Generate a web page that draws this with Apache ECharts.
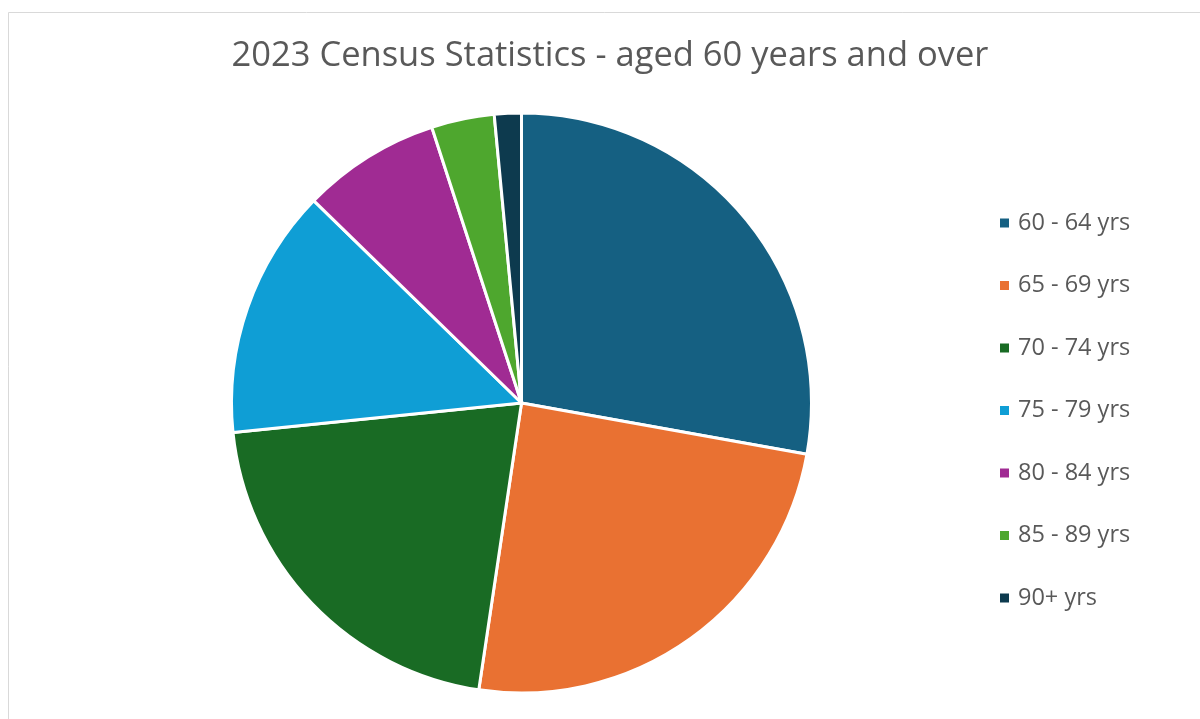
<!DOCTYPE html>
<html>
<head>
<meta charset="utf-8">
<title>2023 Census Statistics - aged 60 years and over</title>
<script src="https://cdn.jsdelivr.net/npm/echarts@6/dist/echarts.min.js"></script>
<style>
  html, body { margin: 0; padding: 0; background: #ffffff; }
  #chart { width: 1200px; height: 719px; }
</style>
</head>
<body>
<div id="chart"></div>
<script>
// Age bands and their share (%) of the population aged 60 and over
const ageBands = ['60 - 64 yrs', '65 - 69 yrs', '70 - 74 yrs', '75 - 79 yrs', '80 - 84 yrs', '85 - 89 yrs', '90+ yrs'];
const shares = [27.8, 24.5, 21.0, 13.9, 7.7, 3.5, 1.5];
const bandColors = ['#156082', '#E97132', '#196B24', '#0F9ED5', '#A02B93', '#4EA72E', '#0D3A4E'];
const chartTitle = '2023 Census Statistics - aged 60 years and over';

const FONT = '"Open Sans", "Noto Sans", sans-serif';
const TEXT_GREY = '#595959';

const chart = echarts.init(document.getElementById('chart'), null, { renderer: 'canvas' });

chart.setOption({
  animation: false,
  backgroundColor: '#ffffff',
  color: bandColors,
  graphic: [{
    type: 'rect',
    shape: { x: 8.5, y: 12.5, width: 1220, height: 740 },
    style: { fill: 'none', stroke: '#d9d9d9', lineWidth: 1 },
    silent: true
  }],
  title: {
    text: chartTitle,
    left: 610,
    textAlign: 'center',
    top: 39,
    padding: 0,
    textStyle: { fontFamily: FONT, fontSize: 34.5, fontWeight: 'normal', color: TEXT_GREY }
  },
  legend: {
    orient: 'vertical',
    left: 998,
    top: 210.5,
    padding: 0,
    icon: 'rect',
    itemWidth: 11,
    itemHeight: 11,
    itemGap: 37.5,
    data: ageBands,
    textStyle: { fontFamily: FONT, fontSize: 23.5, lineHeight: 25, color: TEXT_GREY, padding: [0, 0, 0, 3] }
  },
  series: [{
    type: 'pie',
    center: [521.5, 403],
    radius: 290,
    startAngle: 90,
    clockwise: true,
    label: { show: false },
    labelLine: { show: false },
    emphasis: { disabled: true },
    itemStyle: { borderColor: '#ffffff', borderWidth: 3 },
    data: ageBands.map((name, i) => ({ name: name, value: shares[i] }))
  }]
});
</script>
</body>
</html>
